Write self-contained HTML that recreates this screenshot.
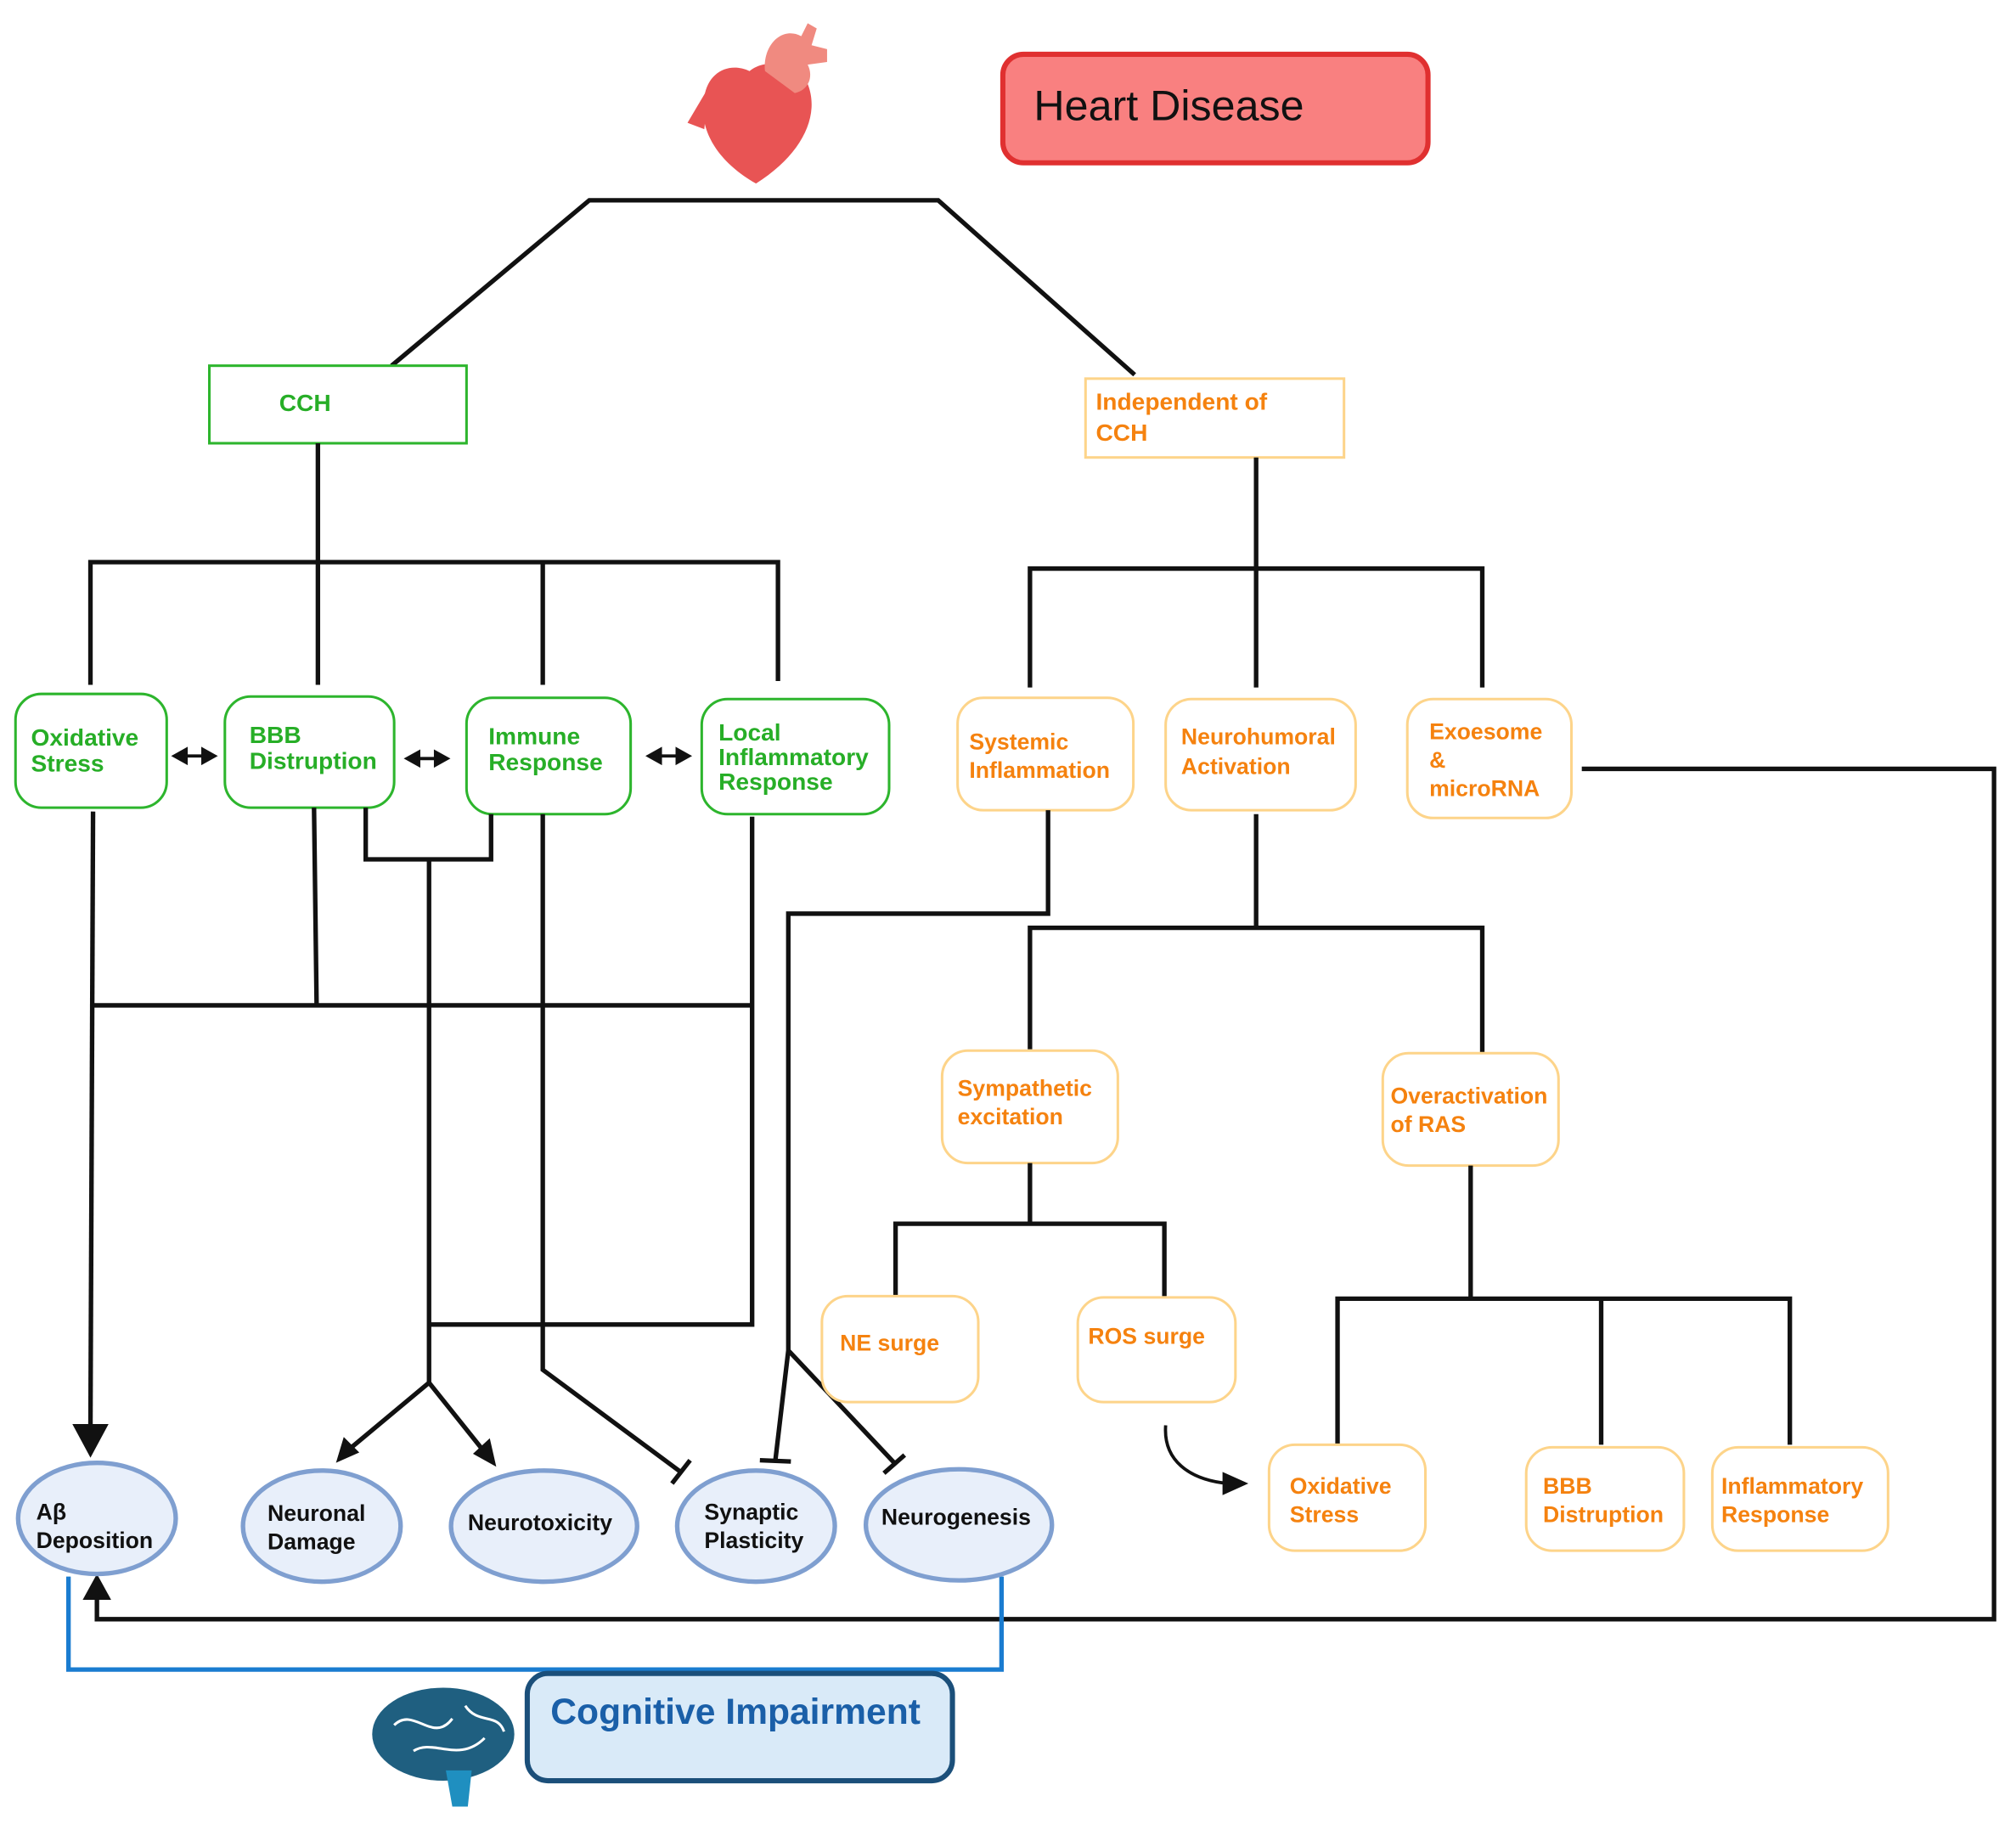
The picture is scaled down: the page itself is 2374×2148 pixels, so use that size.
<!DOCTYPE html>
<html><head><meta charset="utf-8"><style>
html,body{margin:0;padding:0;background:#fff;}
svg{display:block;}
text{font-family:"Liberation Sans",sans-serif;font-weight:bold;}
.g{fill:#27ae27;font-size:18.5px;}
.o{fill:#f5820f;font-size:17.5px;}
.k{fill:#111;font-size:17.5px;}
.gb{fill:#fff;stroke:#2db52d;stroke-width:2;}
.ob{fill:#fff;stroke:#fdd48a;stroke-width:2;}
.el{fill:#e8effa;stroke:#7f9fd0;stroke-width:3.5;}
.l{stroke:#111;stroke-width:3.5;fill:none;}
</style></head><body>
<svg width="2374" height="2148" viewBox="0 0 1560 1411.5" preserveAspectRatio="none" xmlns="http://www.w3.org/2000/svg">
<!-- heart -->
<g>
<path d="M585,142 C555,125 540,100 545,75 C548,55 565,48 580,55 C592,45 615,48 625,65 C635,90 620,120 585,142 Z" fill="#e85454"/>
<path d="M592,55 C590,35 605,20 620,28 L625,18 L632,22 L628,35 L640,38 L640,48 L625,50 C630,60 625,70 615,72 Z" fill="#f08a80"/>
<path d="M548,68 L532,95 L545,100 Z" fill="#e85454"/>
</g>
<rect x="776" y="42" width="329" height="84" rx="16" fill="#f98080" stroke="#e03030" stroke-width="4"/>
<text x="800" y="93" style="font-weight:normal;font-size:33px;fill:#111">Heart Disease</text>

<path class="l" d="M303,283 L456,155 L726,155 L878,290"/>
<rect x="162" y="283" width="199" height="60" class="gb"/>
<text x="216" y="318" class="g">CCH</text>
<rect x="840" y="293" width="200" height="61" class="ob"/>
<text x="848" y="317" class="o" style="font-size:18.5px">Independent of</text>
<text x="848" y="341" class="o" style="font-size:18.5px">CCH</text>

<path class="l" d="M246,343 L246,530 M70,530 L70,435 L602,435 L602,527 M420,435 L420,530"/>
<rect x="12" y="537" width="117" height="88" rx="20" class="gb"/>
<text x="24" y="577" class="g">Oxidative</text><text x="24" y="597" class="g">Stress</text>
<rect x="174" y="539" width="131" height="86" rx="20" class="gb"/>
<text x="193" y="575" class="g">BBB</text><text x="193" y="595" class="g">Distruption</text>
<rect x="361" y="540" width="127" height="90" rx="20" class="gb"/>
<text x="378" y="576" class="g">Immune</text><text x="378" y="596" class="g">Response</text>
<rect x="543" y="541" width="145" height="89" rx="20" class="gb"/>
<text x="556" y="573" class="g">Local</text><text x="556" y="592" class="g">Inflammatory</text><text x="556" y="611" class="g">Response</text>
<g fill="#111" stroke="#111" stroke-width="2.5">
<path d="M142,585 L158,585"/><path d="M135,585 L144,580 L144,590 Z"/><path d="M166,585 L157,580 L157,590 Z"/>
<path d="M322,587 L338,587"/><path d="M315,587 L324,582 L324,592 Z"/><path d="M346,587 L337,582 L337,592 Z"/>
<path d="M509,585 L525,585"/><path d="M502,585 L511,580 L511,590 Z"/><path d="M533,585 L524,580 L524,590 Z"/>
</g>
<path class="l" d="M72,628 L70,1105"/>
<path d="M56,1102 L84,1102 L70,1128 Z" fill="#111"/>
<path class="l" d="M243,625 L245,778 M72,778 L582,778 M582,632 L582,1025 L332,1025 M283,625 L283,665 L380,665 L380,630 M332,665 L332,1070 M420,630 L420,1060 L528,1140"/>
<path class="l" d="M332,1070 L272,1120 M332,1070 L372,1120"/>
<path d="M260,1132 L266,1112 L278,1124 Z" fill="#111"/>
<path d="M384,1135 L366,1125 L379,1113 Z" fill="#111"/>
<path class="l" d="M520,1148 L534,1130"/>
<rect x="741" y="540" width="136" height="87" rx="20" class="ob"/>
<text x="750" y="580" class="o">Systemic</text><text x="750" y="602" class="o">Inflammation</text>
<path class="l" d="M811,627 L811,707 L610,707 L610,1045 L600,1130 M610,1045 L692,1132"/>
<path class="l" d="M588,1130 L612,1131 M684,1140 L700,1126"/>
<path class="l" d="M972,354 L972,532 M797,532 L797,440 L1147,440 L1147,532"/>
<rect x="902" y="541" width="147" height="86" rx="20" class="ob"/>
<text x="914" y="576" class="o">Neurohumoral</text><text x="914" y="599" class="o">Activation</text>
<rect x="1089" y="541" width="127" height="92" rx="20" class="ob"/>
<text x="1106" y="572" class="o">Exoesome</text><text x="1106" y="594" class="o">&amp;</text><text x="1106" y="616" class="o">microRNA</text>
<path class="l" d="M1224,595 L1543,595 L1543,1253 L75,1253 L75,1232"/>
<path d="M64,1238 L86,1238 L75,1218 Z" fill="#111"/>
<path class="l" d="M972,630 L972,718 M797,812 L797,718 L1147,718 L1147,815"/>
<rect x="729" y="813" width="136" height="87" rx="20" class="ob"/>
<text x="741" y="848" class="o">Sympathetic</text><text x="741" y="870" class="o">excitation</text>
<rect x="1070" y="815" width="136" height="87" rx="20" class="ob"/>
<text x="1076" y="854" class="o">Overactivation</text><text x="1076" y="876" class="o">of RAS</text>
<path class="l" d="M797,900 L797,947 M693,1003 L693,947 L901,947 L901,1003"/>
<rect x="636" y="1003" width="121" height="82" rx="20" class="ob"/>
<text x="650" y="1045" class="o">NE surge</text>
<rect x="834" y="1004" width="122" height="81" rx="20" class="ob"/>
<text x="842" y="1040" class="o">ROS surge</text>
<path d="M902,1103 C900,1130 920,1145 950,1148" stroke="#111" stroke-width="2.5" fill="none"/>
<path d="M946,1139 L966,1148 L946,1157 Z" fill="#111"/>
<path class="l" d="M1138,902 L1138,1005 M1035,1118 L1035,1005 L1385,1005 L1385,1118 M1239,1005 L1239,1118"/>
<rect x="982" y="1118" width="121" height="82" rx="20" class="ob"/>
<text x="998" y="1156" class="o">Oxidative</text><text x="998" y="1178" class="o">Stress</text>
<rect x="1181" y="1120" width="122" height="80" rx="20" class="ob"/>
<text x="1194" y="1156" class="o">BBB</text><text x="1194" y="1178" class="o">Distruption</text>
<rect x="1325" y="1120" width="136" height="80" rx="20" class="ob"/>
<text x="1332" y="1156" class="o">Inflammatory</text><text x="1332" y="1178" class="o">Response</text>
<path d="M53,1220 L53,1292 L775,1292 L775,1220" stroke="#1a7cd0" stroke-width="3.5" fill="none"/>
<ellipse cx="75" cy="1175" rx="61" ry="43" class="el"/>
<text x="28" y="1176" class="k">Aβ</text><text x="28" y="1198" class="k">Deposition</text>
<ellipse cx="249" cy="1181" rx="61" ry="43" class="el"/>
<text x="207" y="1177" class="k">Neuronal</text><text x="207" y="1199" class="k">Damage</text>
<ellipse cx="421" cy="1181" rx="72" ry="43" class="el"/>
<text x="362" y="1184" class="k">Neurotoxicity</text>
<ellipse cx="585" cy="1181" rx="61" ry="43" class="el"/>
<text x="545" y="1176" class="k">Synaptic</text><text x="545" y="1198" class="k">Plasticity</text>
<ellipse cx="742" cy="1180" rx="72" ry="43" class="el"/>
<text x="682" y="1180" class="k">Neurogenesis</text>
<g fill="#1f5f80">
<ellipse cx="343" cy="1342" rx="55" ry="36"/>
<path d="M345,1370 L365,1370 L362,1398 L350,1398 Z" fill="#1f8fc0"/>
</g>
<path d="M305,1335 C320,1320 335,1350 350,1330 M320,1355 C335,1345 355,1365 375,1345 M360,1320 C370,1335 385,1325 390,1340" stroke="#fff" stroke-width="2" fill="none"/>
<rect x="408" y="1295" width="329" height="83" rx="16" fill="#d9eaf8" stroke="#1b4f7a" stroke-width="4"/>
<text x="426" y="1334" style="font-size:28px;fill:#1a5fa8">Cognitive Impairment</text>
</svg>
</body></html>
